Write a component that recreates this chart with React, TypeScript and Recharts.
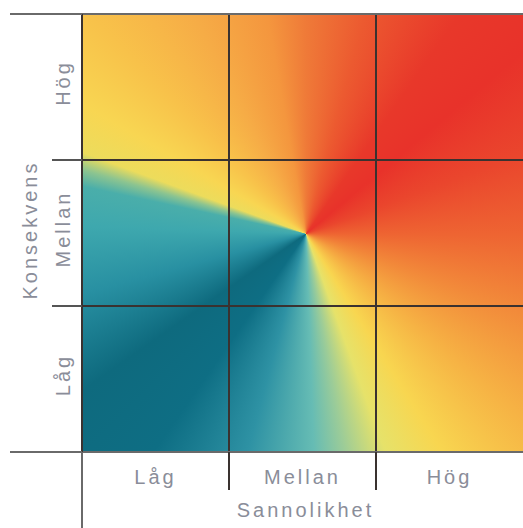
import React from "react";
import { ComposedChart, XAxis, YAxis, ReferenceArea, ReferenceLine, Label } from "recharts";

// Categories (3x3 risk matrix)
const sannolikhet = ["Låg", "Mellan", "Hög"];
const konsekvens = ["Låg", "Mellan", "Hög"];
const xTitle = "Sannolikhet";
const yTitle = "Konsekvens";

// cell boundaries and centres in category units
const boundaries = [0, 1, 2, 3];
const centres = [0.5, 1.5, 2.5];
const axisTicks = [...boundaries, ...centres].sort((a, b) => a - b);

// cells of the matrix
const cells = sannolikhet.flatMap((_, i) => konsekvens.map((__, j) => ({ x: i + 0.5, y: j + 0.5 })));

const TEXT = "#8a8d99";
const DARK = "#3a3230";
const GRAY = "#6a6a6a";
const FONT = "'Liberation Sans', Arial, sans-serif";

const conic =
  "conic-gradient(from 0deg at 50.8% 50.2%," +
  "#ef7a38 0deg, #ec5a30 15deg, #e8382a 35deg, #e8322a 50deg, #ea462d 70deg, #ee6432 90deg," +
  "#f28a3a 110deg, #f6b244 130deg, #f8d650 148deg, #e6e26a 160deg, #9ccc98 170deg, #66bcb4 178deg," +
  "#2e92a4 195deg, #0e6e84 215deg, #0e6a7e 235deg, #2890a2 255deg, #3ea8ae 272deg, #4aaeaa 282deg," +
  "#8cc490 286deg, #ecdc5c 290deg, #f8d652 300deg, #f8c24a 315deg, #f6ac46 333deg, #f4963e 350deg, #ef7a38 360deg)";

const Background = (p: any) => (
  <foreignObject x={p.x} y={p.y} width={p.width} height={p.height}>
    <div style={{ width: "100%", height: "100%", background: conic }} />
  </foreignObject>
);

const XTick = (p: any) => {
  const { x, y, payload } = p;
  const v = payload.value;
  if (Number.isInteger(v)) {
    if (v === boundaries[boundaries.length - 1]) return <g />;
    const len = v === 0 ? 80 : 38;
    return <line x1={x} x2={x} y1={y} y2={y + len} stroke={v === 0 ? GRAY : DARK} strokeWidth={2} />;
  }
  return (
    <text x={x} y={y + 32} textAnchor="middle" fill={TEXT} fontSize={20} fontFamily={FONT} letterSpacing={3}>
      {sannolikhet[Math.floor(v)]}
    </text>
  );
};

const YTick = (p: any) => {
  const { x, y, payload } = p;
  const v = payload.value;
  if (Number.isInteger(v)) {
    const outer = v === boundaries[0] || v === boundaries[boundaries.length - 1];
    const len = outer ? 72 : 30;
    return <line x1={x} x2={x - len} y1={y} y2={y} stroke={outer ? GRAY : "#555"} strokeWidth={2} />;
  }
  const tx = x - 12;
  const ty = y - 4;
  return (
    <text
      x={tx}
      y={ty}
      transform={`rotate(-90 ${tx} ${ty})`}
      textAnchor="middle"
      fill={TEXT}
      fontSize={20}
      fontFamily={FONT}
      letterSpacing={3}
    >
      {konsekvens[Math.floor(v)]}
    </text>
  );
};

export default function App() {
  return (
    <div style={{ position: "absolute", left: 0, top: 0, width: 523, height: 528, background: "#fff" }}>
      <ComposedChart width={523} height={528} data={cells} margin={{ top: 14, right: 0, bottom: 0, left: 0 }}>
        <XAxis
          type="number"
          dataKey="x"
          domain={[0, 3]}
          ticks={axisTicks}
          interval={0}
          allowDataOverflow
          tickLine={false}
          tickSize={0}
          tickMargin={0}
          tick={(p: any) => <XTick {...p} />}
          height={76}
          axisLine={{ stroke: GRAY, strokeWidth: 2 }}
        >
          <Label
            content={(lp: any) => {
              const vb = lp.viewBox || {};
              return (
                <text
                  x={vb.x + vb.width / 2 + 3}
                  y={vb.y + 65}
                  textAnchor="middle"
                  fill={TEXT}
                  fontSize={20}
                  fontFamily={FONT}
                  letterSpacing={3}
                >
                  {xTitle}
                </text>
              );
            }}
          />
        </XAxis>
        <YAxis
          type="number"
          dataKey="y"
          domain={[0, 3]}
          ticks={axisTicks}
          interval={0}
          allowDataOverflow
          tickLine={false}
          tickSize={0}
          tickMargin={0}
          tick={(p: any) => <YTick {...p} />}
          width={82}
          axisLine={{ stroke: DARK, strokeWidth: 2 }}
        >
          <Label
            content={(lp: any) => {
              const vb = lp.viewBox || {};
              const tx = vb.x + 37;
              const ty = vb.y + vb.height / 2 - 3;
              return (
                <text
                  x={tx}
                  y={ty}
                  transform={`rotate(-90 ${tx} ${ty})`}
                  textAnchor="middle"
                  fill={TEXT}
                  fontSize={20}
                  fontFamily={FONT}
                  letterSpacing={3}
                >
                  {yTitle}
                </text>
              );
            }}
          />
        </YAxis>
        <ReferenceArea x1={0} x2={3} y1={0} y2={3} shape={(p: any) => <Background {...p} />} />
        {boundaries.slice(1, -1).map((b) => (
          <ReferenceLine key={"vx" + b} x={b} stroke={DARK} strokeWidth={2} />
        ))}
        {boundaries.slice(1, -1).map((b) => (
          <ReferenceLine key={"hy" + b} y={b} stroke={DARK} strokeWidth={2} />
        ))}
        <ReferenceLine y={3} stroke={GRAY} strokeWidth={2} />
      </ComposedChart>
    </div>
  );
}
